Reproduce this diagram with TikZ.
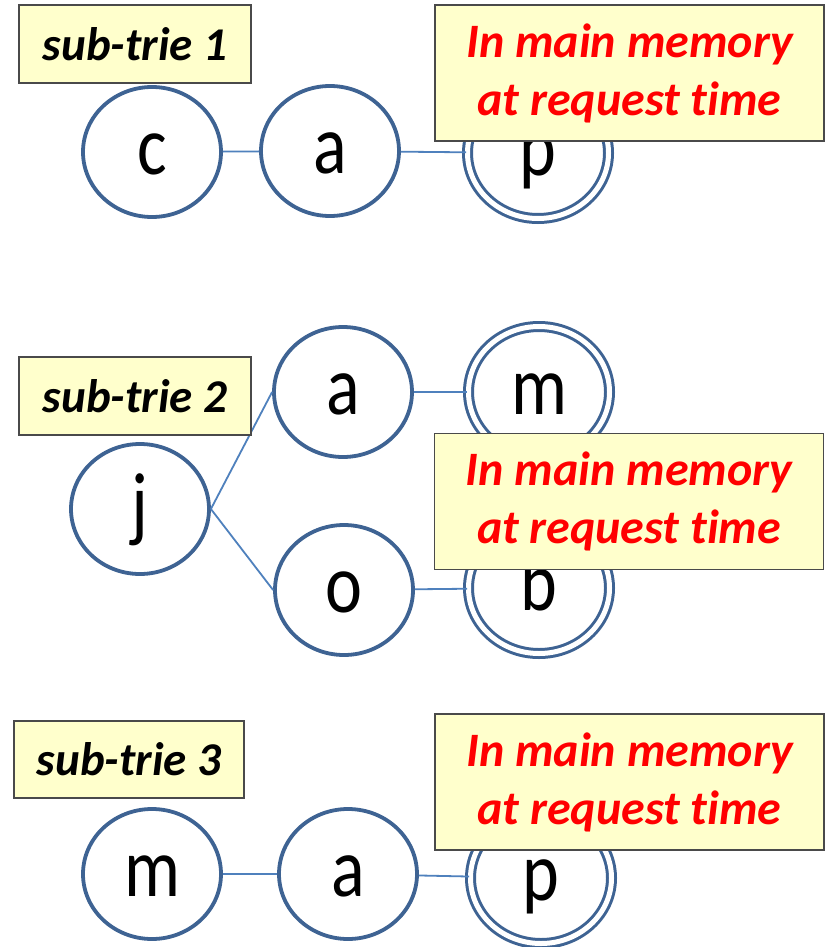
\documentclass[tikz,border=0pt]{standalone}
\usepackage{fontspec}
\setmainfont{Carlito}[Ligatures=NoCommon]
\usetikzlibrary{shapes.geometric}
\definecolor{nodeblue}{HTML}{3E6393}
\definecolor{edgeblue}{HTML}{4F81BD}
\definecolor{boxfill}{HTML}{FFFFCC}
\definecolor{boxline}{HTML}{4A4A4A}
\definecolor{memred}{HTML}{FF0000}
\newcommand{\lt}[1]{\scalebox{1}[1.2]{#1}}
\tikzset{
  letter/.style={font=\fontsize{70}{70}\selectfont, text height=50pt, text depth=6pt},
  state/.style={ellipse, draw=nodeblue, line width=3.8pt, fill=white,
    minimum width=138pt, minimum height=130pt, inner sep=0pt, letter},
  accept/.style={ellipse, draw=nodeblue, line width=3pt, double=white,
    double distance=5pt, fill=white,
    minimum width=141pt, minimum height=131pt, inner sep=0pt, letter},
  edge/.style={draw=edgeblue, line width=1.8pt},
  tag/.style={rectangle, draw=boxline, fill=boxfill, line width=1.5pt,
    minimum width=232pt, minimum height=78pt, inner sep=0pt,
    font=\fontsize{47}{47}\selectfont\bfseries\itshape},
  mem/.style={rectangle, draw=boxline, fill=boxfill, line width=1.5pt,
    minimum width=389pt, minimum height=136pt, inner sep=0pt, align=center,
    text=memred, font=\fontsize{48}{58}\selectfont\bfseries\itshape}
}
\begin{document}
\begin{tikzpicture}[x=1pt,y=-1pt]
\useasboundingbox[fill=white] (0,0) rectangle (827,947);
% sub-trie 1
\node[state]  (c1) at (152,152) {\lt{c}};
\node[state]  (a1) at (330,151) {\lt{a}};
\node[accept] (p1) at (538,153) {\lt{p}};
\draw[edge] (c1) -- (a1);
\draw[edge] (a1) -- (p1);
\node[tag] (t1) at (135,44) {sub-trie 1};
\node[mem] (m1) at (629.5,73) {In main memory\\at request time};
% sub-trie 2
\node[state]  (j2) at (140,509) {\lt{j}};
\node[state]  (a2) at (343,392) {\lt{a}};
\node[state]  (o2) at (344,590) {\lt{o}};
\node[accept] (m2) at (539,392) {\lt{m}};
\node[accept] (b2) at (539,588) {\lt{b}};
\draw[edge] (j2.east) -- (a2.west);
\draw[edge] (j2.east) -- (o2.west);
\draw[edge] (a2) -- (m2);
\draw[edge] (o2) -- (b2);
\node[tag] (t2) at (135,396) {sub-trie 2};
\node[mem] (mm2) at (629,501.5) {In main memory\\at request time};
% sub-trie 3
\node[state]  (m3) at (152,874) {\lt{m}};
\node[state]  (a3) at (348,874) {\lt{a}};
\node[accept] (p3) at (541,878) {\lt{p}};
\draw[edge] (m3) -- (a3);
\draw[edge] (a3) -- (p3);
\node[tag, minimum width=230pt, minimum height=77pt] (t3) at (129,759.5) {sub-trie 3};
\node[mem] (mm3) at (629.5,782) {In main memory\\at request time};
\end{tikzpicture}
\end{document}
